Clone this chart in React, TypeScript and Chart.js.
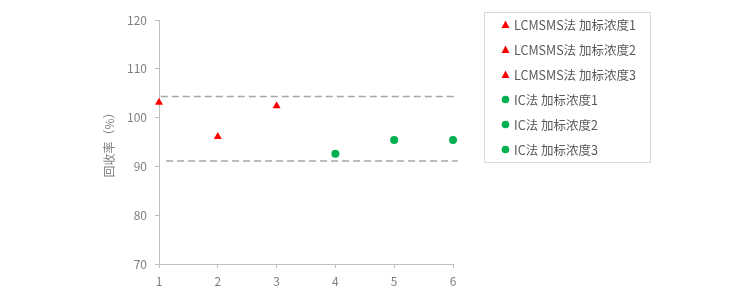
import React, { useEffect, useRef } from "react";
import { Chart, registerables } from "chart.js";

Chart.register(...registerables);

const seriesLabels = [
  "LCMSMS法 加标浓度1",
  "LCMSMS法 加标浓度2",
  "LCMSMS法 加标浓度3",
  "IC法 加标浓度1",
  "IC法 加标浓度2",
  "IC法 加标浓度3",
];
const seriesX = [1, 2, 3, 4, 5, 6];
const seriesY = [103.1, 96.1, 102.4, 92.6, 95.4, 95.4];
const seriesMethod = ["lc", "lc", "lc", "ic", "ic", "ic"];
const upperLimit = 104.3;
const lowerLimit = 91.1;
const upperRange = [1.03, 6.02];
const lowerRange = [1.12, 6.08];
const yTitle = "回收率（%）";

const RED = "#ff0000";
const GREEN = "#00b050";
const FONT = "'Noto Sans CJK SC', 'Noto Sans', sans-serif";

const legendPlugin = {
  id: "boxLegend",
  afterDraw(chart: any) {
    const ctx = chart.ctx;
    ctx.save();
    ctx.strokeStyle = "#d9d9d9";
    ctx.lineWidth = 1;
    ctx.strokeRect(484.5, 12.5, 166, 150);
    ctx.font = "12.5px " + FONT;
    ctx.textBaseline = "middle";
    ctx.textAlign = "left";
    chart.data.datasets.forEach((ds: any) => {
      if (!ds.inLegend) return;
      const y = 24.5 + 25 * ds.legendIndex;
      ctx.fillStyle = ds.pointBackgroundColor;
      ctx.beginPath();
      if (ds.pointStyle === "triangle") {
        ctx.moveTo(505.5, y - 4);
        ctx.lineTo(509.5, y + 3.5);
        ctx.lineTo(501.5, y + 3.5);
        ctx.closePath();
      } else {
        ctx.arc(505.5, y, 3.8, 0, Math.PI * 2);
      }
      ctx.fill();
      ctx.fillStyle = "#595959";
      ctx.fillText(ds.label, 514, y + 0.5);
    });
    ctx.restore();
  },
};

export default function App() {
  const ref = useRef<HTMLCanvasElement>(null);
  useEffect(() => {
    document.body.style.margin = "0";
    const pointSets = seriesLabels.map((label, i) => {
      const isLc = seriesMethod[i] === "lc";
      return {
        type: "scatter",
        label,
        inLegend: true,
        legendIndex: i,
        clip: false,
        data: [{ x: seriesX[i], y: seriesY[i] }],
        pointStyle: isLc ? "triangle" : "circle",
        pointRadius: isLc ? 4.6 : 4,
        pointBackgroundColor: isLc ? RED : GREEN,
        pointBorderColor: isLc ? RED : GREEN,
        pointBorderWidth: 0,
        showLine: false,
      };
    });
    const lineSets = [
      { range: upperRange, v: upperLimit },
      { range: lowerRange, v: lowerLimit },
    ].map((l) => ({
      type: "line",
      label: "",
      inLegend: false,
      clip: false,
      data: [
        { x: l.range[0], y: l.v },
        { x: l.range[1], y: l.v },
      ],
      borderColor: "#a6a6a6",
      borderWidth: 1.5,
      borderDash: [7, 4],
      pointRadius: 0,
      fill: false,
    }));
    const chart = new Chart(ref.current as HTMLCanvasElement, {
      type: "scatter",
      data: { datasets: [...lineSets, ...pointSets] as any },
      plugins: [legendPlugin],
      options: {
        animation: false,
        responsive: false,
        maintainAspectRatio: false,
        layout: { padding: { left: 0, top: 20, right: 303, bottom: 0 } },
        plugins: { legend: { display: false }, tooltip: { enabled: false } },
        scales: {
          x: {
            type: "linear",
            min: 1,
            max: 6,
            afterFit: (s: any) => {
              s.height = 33;
            },
            ticks: {
              stepSize: 1,
              color: "#808080",
              font: { family: FONT, size: 12 },
              padding: 6,
            },
            grid: {
              display: true,
              drawOnChartArea: false,
              drawTicks: true,
              tickLength: 4,
              color: "#bfbfbf",
            },
            border: { display: true, color: "#bfbfbf", width: 1 },
          },
          y: {
            type: "linear",
            min: 70,
            max: 120,
            afterFit: (s: any) => {
              s.width = 159;
            },
            ticks: {
              stepSize: 10,
              color: "#808080",
              font: { family: FONT, size: 12 },
              padding: 8,
            },
            grid: {
              display: true,
              drawOnChartArea: false,
              drawTicks: true,
              tickLength: 4,
              color: "#bfbfbf",
            },
            border: { display: true, color: "#bfbfbf", width: 1 },
            title: {
              display: true,
              text: yTitle,
              color: "#808080",
              font: { family: FONT, size: 12 },
              padding: { top: 102, bottom: 0 },
            },
          },
        },
      } as any,
    });
    return () => chart.destroy();
  }, []);
  return (
    <div style={{ width: 756, height: 297, background: "#ffffff" }}>
      <canvas ref={ref} width={756} height={297} style={{ display: "block" }} />
    </div>
  );
}
